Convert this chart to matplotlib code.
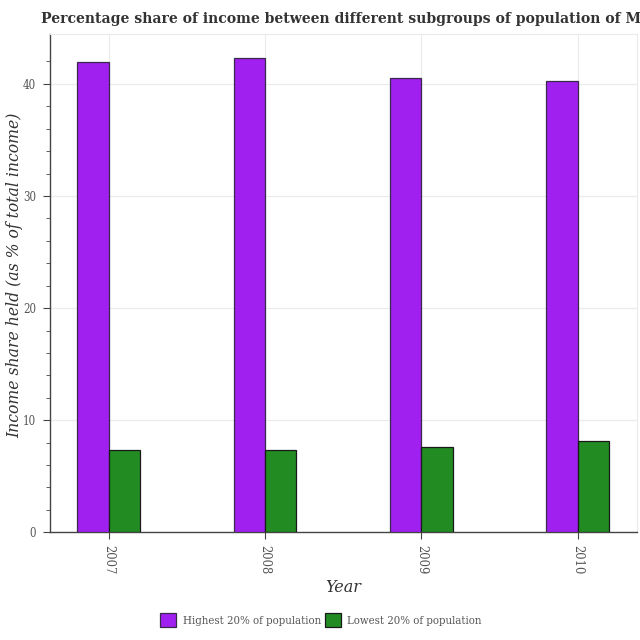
import matplotlib.pyplot as plt
import numpy as np

years = ['2007', '2008', '2009', '2010']
highest = [41.96, 42.32, 40.51, 40.27]
lowest = [7.37, 7.32, 7.59, 8.12]

plt.rcParams['font.family'] = 'DejaVu Serif'

fig = plt.figure(figsize=(6.4, 6.4), dpi=100)
ax = fig.add_axes([50 / 640, 1 - 532.3 / 640, 587 / 640, (532.3 - 34) / 640])

x = np.arange(len(years))
w = 0.2
ax.bar(x - w / 2, highest, w, color='#a020f0', edgecolor='#3a2a4a', linewidth=0.9,
       label='Highest 20% of population', zorder=3)
ax.bar(x + w / 2, lowest, w, color='#228b22', edgecolor='#1a1a1a', linewidth=0.9,
       label='Lowest 20% of population', zorder=3)

ax.set_xlim(-0.375, 3.38)
ax.set_ylim(0, 44.45)
ax.set_xticks(x)
ax.set_xticklabels(years, rotation=270, color='#555555', fontsize=8.3)
ax.set_yticks([0, 10, 20, 30, 40])
ax.set_yticks(np.arange(0, 44, 2), minor=True)
ax.tick_params(axis='y', labelcolor='#555555', labelsize=8.3, length=5, color='#444444', pad=5)
ax.tick_params(axis='y', which='minor', length=3, color='#444444')
ax.tick_params(axis='x', length=5, color='#444444', pad=4)
for lbl in ax.get_yticklabels():
    lbl.set_fontstretch('condensed')

ax.grid(True, color='#ebebeb', linewidth=0.8, zorder=0)
for s in ['top', 'right']:
    ax.spines[s].set_color('#ebebeb')
for s in ['left', 'bottom']:
    ax.spines[s].set_color('#444444')
    ax.spines[s].set_linewidth(1.0)

ax.set_xlabel('Year', fontsize=11.5, style='italic', color='#333333')
ax.xaxis.set_label_coords(0.5, (532.3 - 579) / 498.3)
ax.set_ylabel('Income share held (as % of total income)', fontsize=12.5, style='italic',
              color='#333333', fontstretch='condensed')
ax.yaxis.set_label_coords((23 - 50) / 587, (532.3 - 275) / 498.3)

fig.text(41 / 640, 1 - 19 / 640,
         'Percentage share of income between different subgroups of population of Moldova',
         fontsize=10.1, fontweight='bold', color='#333333', ha='left', va='center')

ax.legend(loc='center', bbox_to_anchor=(321 / 640, 1 - 620 / 640), bbox_transform=fig.transFigure,
          ncol=2, frameon=False, prop={'size': 8.2, 'stretch': 'condensed'}, labelcolor='#555555',
          handlelength=1.4, handleheight=1.4, handletextpad=0.6, columnspacing=0.3)

fig.savefig('out.png', dpi=100)
